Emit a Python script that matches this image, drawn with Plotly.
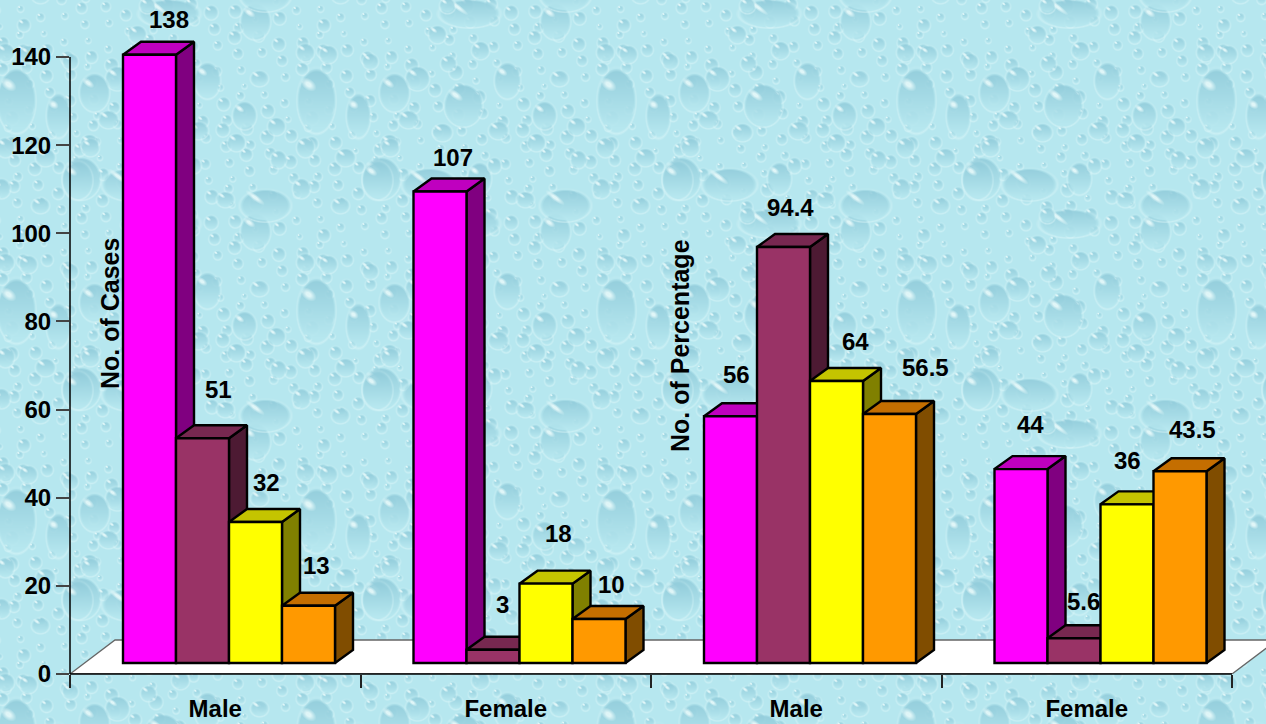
import base64
import struct
import zlib

import numpy as np
import plotly.graph_objects as go

# Chart values
groups = ["Male", "Female", "Male", "Female"]
series_magenta = [138, 107, 56, 44]
series_maroon = [51, 3, 94.4, 5.6]
series_yellow = [32, 18, 64, 36]
series_orange = [13, 10, 56.5, 43.5]
y_ticks = [0, 20, 40, 60, 80, 100, 120, 140]

# Label nudges in pixels (right, up) from the top centre of each bar
nudge_magenta = [(19, 35), (13, 34), (6, 42), (9, 45)]
nudge_maroon = [(16, 49), (9, 45), (7, 39), (9, 37)]
nudge_yellow = [(11, 39), (12, 50), (19, 39), (0, 44)]
nudge_orange = [(8, 40), (12, 34), (36, 47), (12, 42)]

# Canvas and plot geometry: the axes fill the page so the oblique faces are not clipped
WIDTH, HEIGHT = 1266, 724
M_L, M_B = 70, 50
PLOT_W = WIDTH - M_L
PLOT_H = HEIGHT - M_B
PX_X = 290.5
PX_Y = 617 / 140
X_CATS, Y_MAX = 4, 140
X_END = PLOT_W / PX_X
Y_END = PLOT_H / PX_Y

BAR_W = 53 / PX_X
BAR_START = 53 / PX_X
DEPTH_X = 18 / PX_X
DEPTH_Y = 13 / PX_Y
FLOOR_LIFT = 11 / PX_Y
FLOOR_X = 45 / PX_X
FLOOR_Y = 34 / PX_Y

FONT = "Liberation Sans"
series = [
    ("Magenta", series_magenta, nudge_magenta, "#FF00FF", "#BF00BF", "#800080"),
    ("Maroon", series_maroon, nudge_maroon, "#993366", "#772850", "#4D1A33"),
    ("Yellow", series_yellow, nudge_yellow, "#FFFF00", "#C4C400", "#808000"),
    ("Orange", series_orange, nudge_orange, "#FF9900", "#C46E00", "#804D00"),
]


def water_backdrop():
    """Paint a repeating water-droplet tile and return it as a PNG data URI."""
    tile_w, tile_h = 300, 210
    yy, xx = np.mgrid[0:tile_h, 0:tile_w].astype(float)
    base = np.array([182.0, 231.0, 239.0])
    dark = np.array([144.0, 203.0, 218.0])
    img = np.ones((tile_h, tile_w, 3)) * base

    large = [
        (916, 100, 19, 32), (763, 105, 19, 21), (958, 115, 12, 22), (807, 80, 13, 18),
        (769, 13, 30, 14), (855, 21, 15, 18), (717, 78, 12, 12), (729, 184, 27, 16),
        (865, 205, 25, 16), (981, 178, 19, 21), (779, 178, 12, 16), (677, 180, 15, 19),
        (694, 92, 15, 19), (737, 34, 9, 9), (780, 50, 9, 9), (748, 63, 8, 8),
        (905, 52, 9, 9), (928, 54, 9, 9), (970, 61, 8, 8), (859, 78, 9, 8),
        (708, 119, 10, 9), (742, 132, 10, 9), (798, 130, 10, 9), (844, 115, 12, 14),
        (876, 126, 9, 9), (905, 147, 9, 10), (945, 157, 10, 9), (989, 143, 9, 9),
        (690, 147, 9, 9), (794, 165, 7, 8), (836, 142, 9, 9), (878, 159, 8, 9),
        (901, 188, 9, 10), (825, 199, 9, 8), (747, 215, 8, 8), (940, 205, 9, 8),
    ]
    # Small beads spread evenly by a golden-ratio sequence go underneath the big drops
    small = []
    for k in range(1, 170):
        u = (k * 0.7548776662) % 1
        v = (k * 0.5698402910) % 1
        r = 2.5 + 4.5 * ((k * 0.6180339887) % 1)
        small.append((u * tile_w, v * tile_h, r, r * 1.05))

    for cx, cy, rx, ry in small + large:
        dx = (xx - cx + tile_w / 2) % tile_w - tile_w / 2
        dy = (yy - cy + tile_h / 2) % tile_h - tile_h / 2
        d = np.sqrt((dx / rx) ** 2 + (dy / ry) ** 2)
        body = np.clip((1 - d) * min(rx, ry) / 2.0, 0, 1)
        t = np.clip((dy / ry + 1) / 2, 0, 1)
        # Each drop covers what lies under it, darker on top and pale near its lower edge
        tone = np.clip(1.0 - 1.1 * t, 0.0, 1)[..., None]
        colour = base + tone * (dark - base)
        img += body[..., None] * 0.88 * (colour - img)
        rim = np.clip(1 - np.abs(d - 1.04) * min(rx, ry) / 1.4, 0, 1) * (0.25 + 0.75 * t)
        img += (rim * 0.6)[..., None] * (np.array([216.0, 245.0, 248.0]) - img)
        hx = (dx + 0.42 * rx) * 0.8 + (dy + 0.5 * ry) * 0.6
        hy = -(dx + 0.42 * rx) * 0.6 + (dy + 0.5 * ry) * 0.8
        glint = np.clip(1.4 - np.sqrt((hx / (0.34 * rx)) ** 2 + (hy / (0.11 * ry + 0.5)) ** 2), 0, 1)
        img += (glint * 0.85)[..., None] * (np.array([236.0, 252.0, 252.0]) - img)

    page = np.tile(img, (HEIGHT // tile_h + 1, WIDTH // tile_w + 1, 1))[:HEIGHT, :WIDTH]
    page = np.clip(page, 0, 255).astype(np.uint8)

    def chunk(tag, data):
        body = tag + data
        return struct.pack(">I", len(data)) + body + struct.pack(">I", zlib.crc32(body))

    raw = b"".join(b"\x00" + row.tobytes() for row in page)
    png = (
        b"\x89PNG\r\n\x1a\n"
        + chunk(b"IHDR", struct.pack(">IIBBBBB", WIDTH, HEIGHT, 8, 2, 0, 0, 0))
        + chunk(b"IDAT", zlib.compress(raw, 9))
        + chunk(b"IEND", b"")
    )
    return "data:image/png;base64," + base64.b64encode(png).decode()


fig = go.Figure()

# White floor of the chart, slanting back from the axis
fig.add_trace(go.Scatter(
    x=[0, FLOOR_X, X_CATS + FLOOR_X, X_CATS, 0],
    y=[0, FLOOR_Y, FLOOR_Y, 0, 0],
    mode="lines", line=dict(color="#666666", width=1.3), fill="toself", fillcolor="#FFFFFF",
    hoverinfo="skip", showlegend=False,
))

annotations = []
outline = dict(color="#000000", width=2.4)

for s_idx, (name, values, nudges, front, top, side) in enumerate(series):
    lefts = [g + BAR_START + s_idx * BAR_W for g in range(len(groups))]
    # Side and top faces, left to right so nearer bars overlap further ones
    for left, value in zip(lefts, values):
        right = left + BAR_W
        low = FLOOR_LIFT
        high = FLOOR_LIFT + value
        fig.add_trace(go.Scatter(
            x=[right, right + DEPTH_X, right + DEPTH_X, right, right],
            y=[low, low + DEPTH_Y, high + DEPTH_Y, high, low],
            mode="lines", fill="toself", fillcolor=side, line=outline,
            hoverinfo="skip", showlegend=False,
        ))
        fig.add_trace(go.Scatter(
            x=[left, left + DEPTH_X, right + DEPTH_X, right, left],
            y=[high, high + DEPTH_Y, high + DEPTH_Y, high, high],
            mode="lines", fill="toself", fillcolor=top, line=outline,
            hoverinfo="skip", showlegend=False,
        ))

# Front faces sit on an overlaid axis pair so they cover neighbouring side faces
for s_idx, (name, values, nudges, front, top, side) in enumerate(series):
    centers = [g + BAR_START + (s_idx + 0.5) * BAR_W for g in range(len(groups))]
    fig.add_trace(go.Bar(
        x=centers, y=values, base=FLOOR_LIFT, width=BAR_W, name=name,
        marker=dict(color=front, line=outline),
        xaxis="x2", yaxis="y2", showlegend=False,
    ))
    for cx, value, (nx, ny) in zip(centers, values, nudges):
        annotations.append(dict(
            x=cx, y=value + FLOOR_LIFT, xref="x", yref="y",
            text=f"<b>{value}</b>", showarrow=False,
            xshift=nx, yshift=ny, xanchor="center", yanchor="middle",
            font=dict(family=FONT, size=24, color="#000000"),
        ))

# Rotated axis captions placed inside the plot, one per pair of groups
for caption, px, py in [("No. of Cases", 110, 314), ("No. of Percentage", 680, 346)]:
    annotations.append(dict(
        x=(px - M_L) / PLOT_W, y=(HEIGHT - M_B - py) / PLOT_H,
        xref="paper", yref="paper", text=f"<b>{caption}</b>", textangle=-90,
        showarrow=False, xanchor="center", yanchor="middle",
        font=dict(family=FONT, size=25, color="#000000"),
    ))

# Axis lines stop at the last tick, short of the page edge
axis_lines = [
    dict(type="line", xref="paper", yref="y", x0=0, x1=0, y0=0, y1=Y_MAX,
         line=dict(color="#000000", width=1.5), layer="above"),
    dict(type="line", xref="x", yref="paper", x0=0, x1=X_CATS, y0=0, y1=0,
         line=dict(color="#000000", width=1.5), layer="above"),
]

fig.update_layout(
    width=WIDTH, height=HEIGHT,
    margin=dict(l=M_L, r=0, t=0, b=M_B, pad=0),
    paper_bgcolor="#B5E7F0", plot_bgcolor="rgba(0,0,0,0)",
    barmode="overlay", showlegend=False, annotations=annotations, shapes=axis_lines,
    images=[dict(
        source=water_backdrop(), xref="paper", yref="paper",
        x=-M_L / PLOT_W, y=1,
        sizex=WIDTH / PLOT_W, sizey=HEIGHT / PLOT_H,
        sizing="stretch", layer="below", xanchor="left", yanchor="top",
    )],
    xaxis=dict(
        range=[0, X_END], showgrid=False, zeroline=False, fixedrange=True,
        showline=False, automargin=False,
        tickmode="array", tickvals=[g + 0.5 for g in range(len(groups))],
        ticktext=[f"<b>{g}</b>" for g in groups], ticks="", ticklabelstandoff=18,
        tickfont=dict(family=FONT, size=24, color="#000000"),
        minor=dict(tickmode="array", tickvals=list(range(X_CATS + 1)),
                   ticks="outside", ticklen=13, tickwidth=1.5, tickcolor="#222222",
                   showgrid=False),
    ),
    yaxis=dict(
        range=[0, Y_END], showgrid=False, zeroline=False, fixedrange=True,
        showline=False, automargin=False,
        tickmode="array", tickvals=y_ticks,
        ticktext=[f"<b>{t}</b>" for t in y_ticks],
        ticks="outside", ticklen=13, tickwidth=1.5, tickcolor="#444444",
        tickfont=dict(family=FONT, size=24, color="#000000"),
    ),
    xaxis2=dict(range=[0, X_END], overlaying="x", visible=False, fixedrange=True),
    yaxis2=dict(range=[0, Y_END], overlaying="y", visible=False, fixedrange=True),
)

fig.write_html("out.html")
